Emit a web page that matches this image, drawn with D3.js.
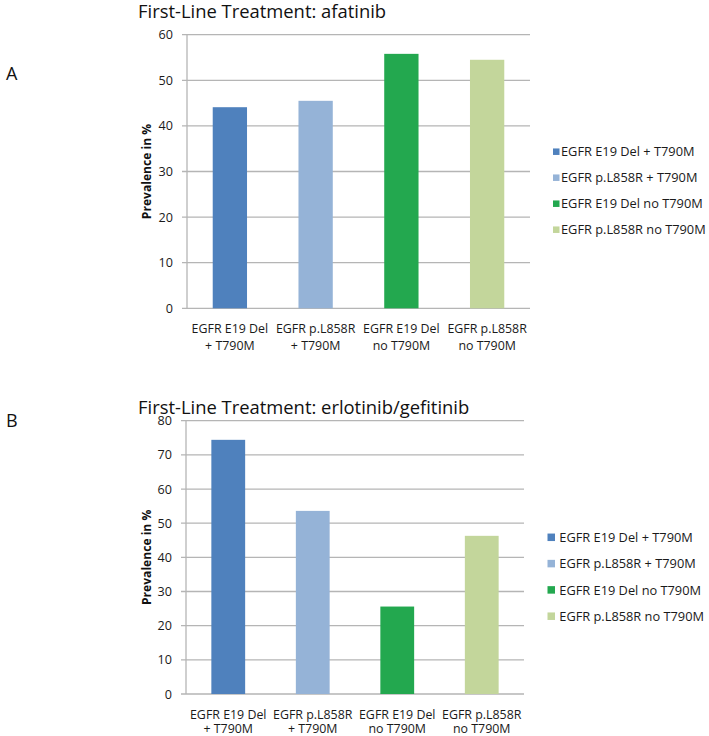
<!DOCTYPE html>
<html><head><meta charset="utf-8">
<script src="https://cdn.jsdelivr.net/npm/d3@7"></script>
<style>
html,body{margin:0;padding:0;background:#fff;}
svg{display:block;font-family:"Open Sans", Lato, sans-serif;}
</style></head>
<body><svg id="c" width="709" height="736"></svg>
<script>
// ---- data ----
const categories = ["EGFR E19 Del + T790M","EGFR p.L858R + T790M","EGFR E19 Del no T790M","EGFR p.L858R no T790M"];
const categoryLines = [["EGFR E19 Del","+ T790M"],["EGFR p.L858R","+ T790M"],["EGFR E19 Del","no T790M"],["EGFR p.L858R","no T790M"]];
const colors = ["#4F81BD","#95B3D7","#23A84F","#C3D69B"];
const valuesA = [44.1, 45.5, 55.8, 54.5];
const valuesB = [74.4, 53.6, 25.6, 46.3];
const ticksA = [0,10,20,30,40,50,60];
const ticksB = [0,10,20,30,40,50,60,70,80];
const titleA = "First-Line Treatment: afatinib";
const titleB = "First-Line Treatment: erlotinib/gefitinib";
const yLabel = "Prevalence in %";

const svg = d3.select("#c");

const fsTitle = 18.4, fsTick = 12.6, fsXl = 12.4, fsLeg = 12.8, fsYl = 12.1, fsLetter = 18;

function panel(cfg){
  const g = svg.append("g");
  const x = d3.scaleBand().domain(categories).range([cfg.left, cfg.right]).paddingInner(0.6).paddingOuter(0.3);
  const y = d3.scaleLinear().domain([0, d3.max(cfg.ticks)]).range([cfg.bottom, cfg.top]);

  g.selectAll("line.grid").data(cfg.ticks).join("line")
    .attr("x1", cfg.left-5).attr("x2", cfg.right)
    .attr("y1", d=>y(d)).attr("y2", d=>y(d))
    .attr("stroke", "#b5b5b5").attr("stroke-width", 1.3);
  g.append("line").attr("x1", cfg.left).attr("x2", cfg.left).attr("y1", y(d3.max(cfg.ticks))).attr("y2", cfg.bottom)
    .attr("stroke", "#b5b5b5").attr("stroke-width", 1.3);
  g.selectAll("text.yt").data(cfg.ticks).join("text")
    .attr("x", cfg.left-14).attr("y", d=>y(d)).attr("dy","0.36em")
    .attr("text-anchor","end").attr("font-size", fsTick).attr("fill","#1a1a1a")
    .text(d=>d);
  g.selectAll("rect.bar").data(cfg.values).join("rect")
    .attr("x", (d,i)=>x(categories[i])).attr("width", x.bandwidth())
    .attr("y", d=>y(d)).attr("height", d=>cfg.bottom - y(d))
    .attr("fill", (d,i)=>colors[i]);
  const xl = g.selectAll("text.xl").data(categoryLines).join("text")
    .attr("text-anchor","middle").attr("font-size", fsXl).attr("fill","#1a1a1a");
  xl.each(function(lines,i){
    const t = d3.select(this);
    lines.forEach((ln,j)=>{
      t.append("tspan").attr("x", x(categories[i]) + x.bandwidth()/2)
        .attr("y", cfg.xlBase + j*cfg.xlh).text(ln);
    });
  });
  g.append("text").attr("transform", `translate(${cfg.ylx},${(cfg.top+cfg.bottom)/2}) rotate(-90)`)
    .attr("text-anchor","middle").attr("dy","0.36em").attr("font-size", fsYl).attr("font-weight","bold").attr("fill","#111")
    .text(yLabel);
  g.append("text").attr("x", 138).attr("y", cfg.titleY).attr("font-size", fsTitle).attr("fill","#111").text(cfg.title);
  g.append("text").attr("x", 6).attr("y", cfg.letterY).attr("font-size", fsLetter).attr("fill","#111").text(cfg.letter);
  const lg = g.selectAll("g.lg").data(categories).join("g")
    .attr("transform", (d,i)=>`translate(${cfg.legX},${cfg.legY + i*cfg.legH})`);
  lg.append("rect").attr("x",0).attr("y",-cfg.sq/2).attr("width",cfg.sq).attr("height",cfg.sq).attr("fill",(d,i)=>colors[i]);
  lg.append("text").attr("x", cfg.legTx).attr("dy","0.36em").attr("font-size", fsLeg).attr("fill","#1a1a1a").text(d=>d);
}

panel({values: valuesA, ticks: ticksA, title: titleA, letter:"A",
  left:187, right:530, top:34.7, bottom:308.3, xlBase:333, xlh:17, ylx:146.7,
  titleY:17.5, letterY:80, legX:553, legY:151.7, legH:26, legTx:8, sq:6.5});
panel({values: valuesB, ticks: ticksB, title: titleB, letter:"B",
  left:186, right:524, top:420.7, bottom:694, xlBase:719, xlh:14, ylx:146.7,
  titleY:413.5, letterY:426.5, legX:547.5, legY:537.3, legH:26.3, legTx:11.8, sq:7.5});
</script></body></html>
